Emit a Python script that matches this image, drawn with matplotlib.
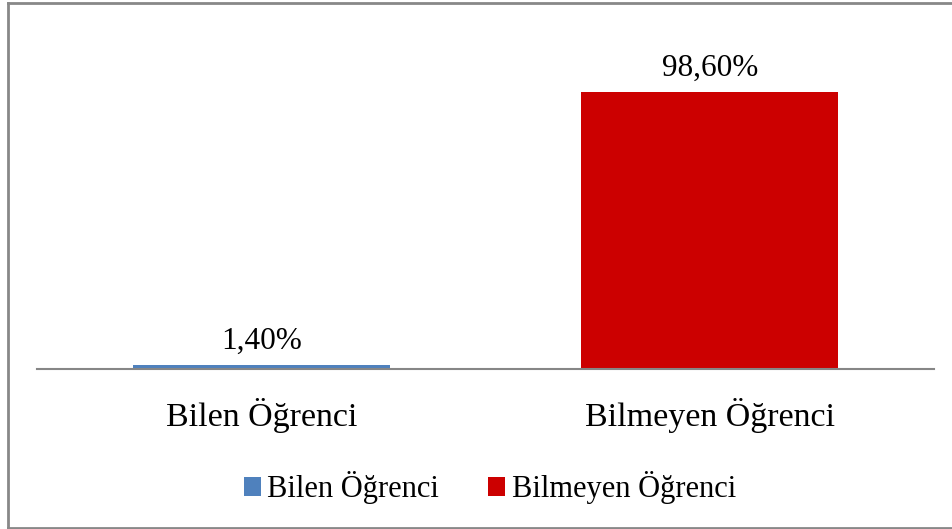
import matplotlib.pyplot as plt
from matplotlib.patches import Patch
from matplotlib.lines import Line2D

categories = ["Bilen Öğrenci", "Bilmeyen Öğrenci"]
values = [1.40, 98.60]
labels = ["1,40%", "98,60%"]
colors = ["#4F81BD", "#CC0000"]

plt.rcParams['font.family'] = ['Liberation Serif', 'DejaVu Serif']

W, H = 952, 529
fig = plt.figure(figsize=(W / 100, H / 100), dpi=100)
ax = fig.add_axes([37 / W, 1 - 369 / H, (934 - 37) / W, (369 - 32) / H])

x = range(len(categories))
bars = ax.bar(x, values, width=0.572, color=colors)
ax.set_xlim(-0.5, 1.5)
ax.set_ylim(0, 120)

for b, t in zip(bars, labels):
    ax.annotate(t, (b.get_x() + b.get_width() / 2, b.get_height()),
                xytext=(0, 7), textcoords="offset points",
                ha="center", va="bottom", fontsize=22.5)

ax.set_xticks(list(x))
ax.set_xticklabels(categories, fontsize=24.5)
ax.tick_params(axis="x", length=0, pad=21)
ax.set_yticks([])
for s in ["left", "right", "top"]:
    ax.spines[s].set_visible(False)
ax.spines["bottom"].set_color("#868686")
ax.spines["bottom"].set_linewidth(1.5)

handles = [Patch(facecolor=c, edgecolor="none") for c in colors]
fig.legend(handles, categories, loc="center", ncol=2,
           bbox_to_anchor=(490 / W, 1 - 488 / H), frameon=False,
           fontsize=22, handlelength=0.55, handleheight=0.55,
           handletextpad=0.22, columnspacing=1.6)

# outer frame (left, top, bottom; right edge is cut off)
bx0, by0, by1 = 7.5 / W, 1.5 / H, 1 - 2.5 / H
for xs, ys in [([bx0, bx0], [by0, by1]), ([bx0, 1.0], [by1, by1]),
               ([bx0, 1.0], [by0, by0])]:
    fig.add_artist(Line2D(xs, ys, transform=fig.transFigure,
                          color="#888888", linewidth=2))

fig.savefig("out.png", dpi=100)
